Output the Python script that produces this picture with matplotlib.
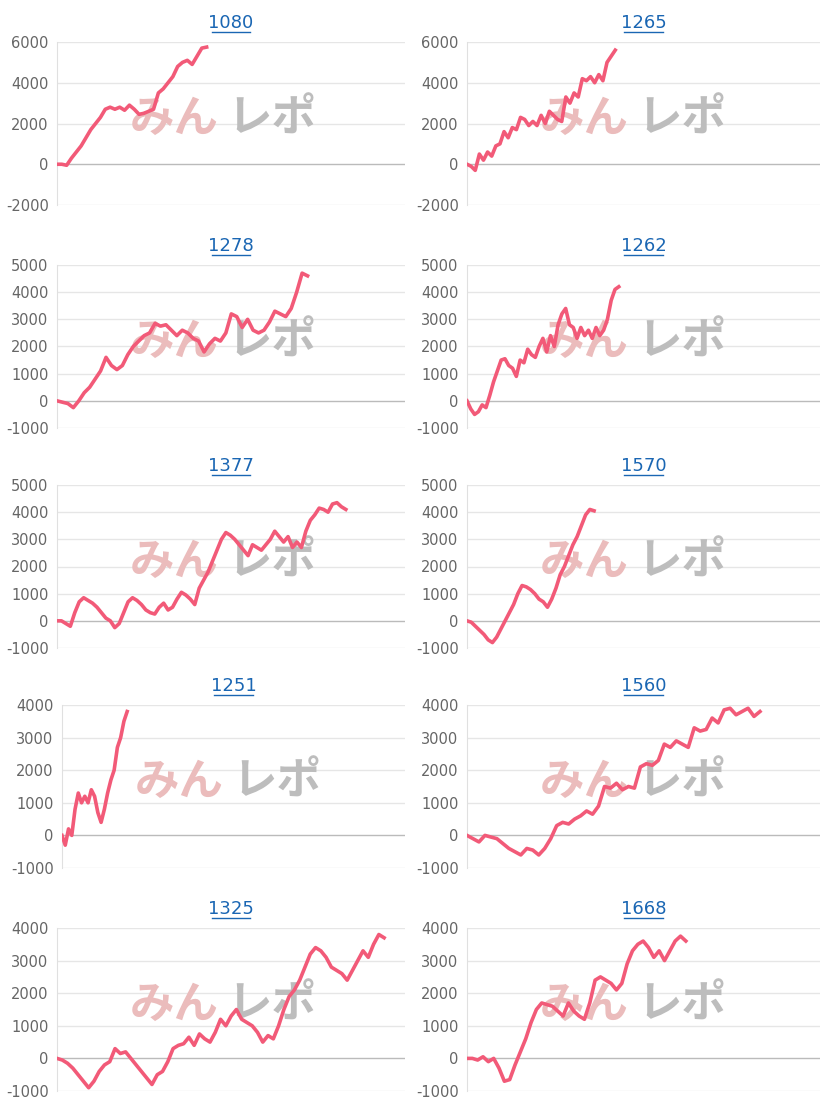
import matplotlib
matplotlib.use("Agg")
import matplotlib.pyplot as plt

titles = ["1080", "1265", "1278", "1262", "1377", "1570", "1251", "1560", "1325", "1668"]
v1080 = [0,0,-50,300,600,900,1300,1700,2000,2300,2700,2800,2700,2800,2650,2900,2700,2450,2500,2600,2700,3500,3700,4000,4300,4800,5000,5100,4900,5300,5700,5750]
v1265 = [0,-100,-300,500,200,600,400,900,1000,1600,1300,1800,1700,2300,2200,1900,2100,1900,2400,2000,2600,2400,2200,2100,3300,3000,3500,3300,4200,4100,4300,4000,4400,4100,5000,5300,5600]
v1278 = [0,-50,-100,-250,0,300,500,800,1100,1600,1300,1150,1300,1700,2000,2200,2400,2500,2850,2750,2800,2600,2400,2600,2500,2300,2200,1800,2100,2300,2200,2500,3200,3100,2700,3000,2600,2500,2600,2900,3300,3200,3100,3400,4000,4700,4600]
v1262 = [0,-300,-500,-400,-150,-250,200,700,1100,1500,1550,1300,1200,900,1500,1400,1900,1700,1600,2000,2300,1800,2400,2000,2800,3200,3400,2800,2700,2300,2700,2400,2600,2300,2700,2400,2600,3000,3700,4100,4200]
v1377 = [0,0,-100,-200,300,700,850,750,650,500,300,100,0,-250,-100,300,700,850,750,600,400,300,250,500,650,400,500,800,1050,950,800,600,1200,1500,1800,2200,2600,3000,3250,3150,3000,2800,2600,2400,2800,2700,2600,2800,3000,3300,3100,2900,3100,2700,2900,2700,3300,3700,3900,4150,4100,4000,4300,4350,4200,4100]
v1570 = [0,-50,-200,-350,-500,-700,-800,-600,-300,0,300,600,1000,1300,1250,1150,1000,800,700,500,800,1200,1700,2000,2400,2800,3100,3500,3900,4100,4050]
v1251 = [0,-300,200,0,800,1300,1000,1200,1000,1400,1200,700,400,800,1300,1700,2000,2700,3000,3500,3800]
v1560 = [0,-100,-200,0,-50,-100,-250,-400,-500,-600,-400,-450,-600,-400,-100,300,400,350,500,600,750,650,900,1500,1450,1600,1400,1500,1450,2100,2200,2150,2300,2800,2700,2900,2800,2700,3300,3200,3250,3600,3450,3850,3900,3700,3800,3900,3650,3800]
v1325 = [0,-50,-150,-300,-500,-700,-900,-700,-400,-200,-100,300,150,200,0,-200,-400,-600,-800,-500,-400,-100,300,400,450,650,400,750,600,500,800,1200,1000,1300,1500,1200,1100,1000,800,500,700,600,1000,1500,1900,2100,2400,2800,3200,3400,3300,3100,2800,2700,2600,2400,2700,3000,3300,3100,3500,3800,3700]
v1668 = [0,0,-50,50,-100,0,-300,-700,-650,-200,200,600,1100,1500,1700,1650,1600,1450,1300,1700,1450,1300,1200,1700,2400,2500,2400,2300,2100,2300,2900,3300,3500,3600,3400,3100,3300,3000,3300,3600,3750,3600]
series = [v1080, v1265, v1278, v1262, v1377, v1570, v1251, v1560, v1325, v1668]
ymins = [-2000,-2000,-1000,-1000,-1000,-1000,-1000,-1000,-1000,-1000]
ymaxs = [6000,6000,5000,5000,5000,5000,4000,4000,4000,4000]
ysteps = [2000,2000,1000,1000,1000,1000,1000,1000,1000,1000]
fracs = [0.43,0.42,0.72,0.43,0.83,0.36,0.19,0.83,0.94,0.62]

W, H = 822, 1105
fig = plt.figure(figsize=(W/100, H/100), dpi=100)
tops = [42, 265, 485, 705, 928]
for i, vals in enumerate(series):
    r, c = divmod(i, 2)
    left = 57 if c == 0 else 467
    if i == 6: left = 62
    width = (405 if c == 0 else 820) - left
    ax = fig.add_axes([left/W, 1-(tops[r]+163)/H, width/W, 163/H])
    n = len(vals)
    ax.set_xlim(0, (n-1)/fracs[i])
    ax.set_ylim(ymins[i], ymaxs[i])
    ticks = list(range(ymins[i], ymaxs[i]+1, ysteps[i]))
    ax.set_yticks(ticks)
    ax.set_yticklabels([str(t) for t in ticks], color="#666666", fontsize=10.5)
    ax.set_xticks([])
    for t in ticks:
        ax.axhline(t, color="#bbbbbb" if t == 0 else "#e6e6e6", lw=1, zorder=0)
    for s in ["top", "right", "bottom"]:
        ax.spines[s].set_visible(False)
    ax.spines["left"].set_color("#e0e0e0")
    ax.tick_params(axis="y", length=0, pad=6)
    sx = 348/width
    ax.text(0.21*sx, 0.53, "みん", transform=ax.transAxes, fontsize=32, color="#ebbcbc",
            fontweight="bold", family="Noto Sans CJK JP", va="center", zorder=1)
    ax.text(0.49*sx, 0.53, "レポ", transform=ax.transAxes, fontsize=32, color="#bdbdbd",
            fontweight="bold", family="Noto Sans CJK JP", va="center", zorder=1)
    ax.plot(range(n), vals, color="#f25a78", lw=2.6, zorder=3)
    ax.set_title(titles[i], color="#1a66b3", fontsize=13, pad=10)
    ax.plot([0.5-0.055*sx, 0.5+0.055*sx], [1.06, 1.06], transform=ax.transAxes,
            color="#1a66b3", lw=1, clip_on=False)
fig.savefig("out.png", dpi=100, facecolor="white")
